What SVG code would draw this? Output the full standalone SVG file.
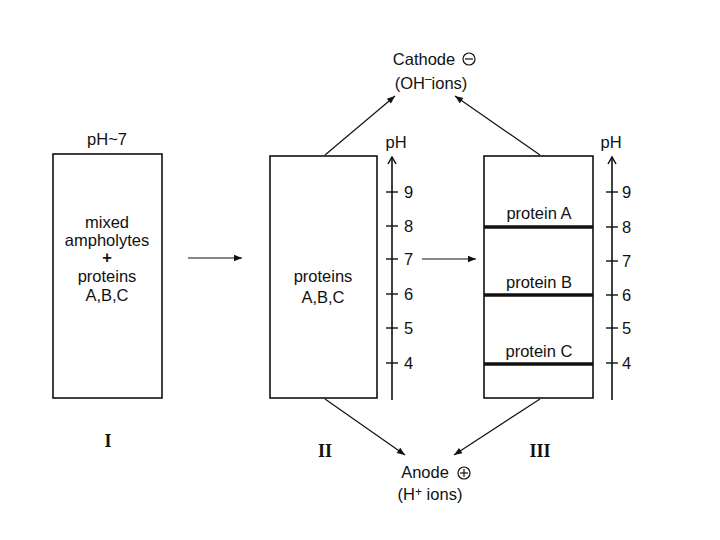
<svg xmlns="http://www.w3.org/2000/svg" width="720" height="540" viewBox="0 0 720 540">
<defs>
<marker id="ah" viewBox="0 0 10 10" refX="10" refY="5" markerWidth="10" markerHeight="8" orient="auto" markerUnits="userSpaceOnUse"><path d="M0,1 L10,5 L0,9 z" fill="#111"/></marker>
<marker id="open" viewBox="0 0 10 10" refX="9" refY="5" markerWidth="10" markerHeight="10" orient="auto" markerUnits="userSpaceOnUse"><path d="M2,1 L9,5 L2,9" fill="none" stroke="#111" stroke-width="1.5"/></marker>
<style>
text{font-family:"Liberation Sans",Arial,sans-serif;font-size:16.5px;fill:#111;text-anchor:middle}
.box{fill:#fff;stroke:#111;stroke-width:1.6}
.ax{stroke:#111;stroke-width:1.6;fill:none}
.tk{stroke:#111;stroke-width:1.4}
.ln{stroke:#111;stroke-width:1.2;fill:none}
.band{stroke:#111;stroke-width:3.5}
.rn{font-family:"Liberation Serif","Times New Roman",serif;font-weight:bold;font-size:18px}
.tl{text-anchor:start}
</style>
</defs>
<rect width="720" height="540" fill="#fff"/>

<g id="cathode">
<text x="424" y="65">Cathode</text>
<circle cx="469" cy="59" r="6" fill="none" stroke="#111" stroke-width="1.2"/>
<line x1="465" y1="59" x2="473" y2="59" stroke="#111" stroke-width="1.2"/>
<text x="431" y="89">(OH<tspan dy="-6" font-size="12">–</tspan><tspan dy="6">ions)</tspan></text>
</g>

<g id="anode">
<text x="425" y="478">Anode</text>
<circle cx="464" cy="473" r="6" fill="none" stroke="#111" stroke-width="1.2"/>
<line x1="460" y1="473" x2="468" y2="473" stroke="#111" stroke-width="1.2"/>
<line x1="464" y1="469" x2="464" y2="477" stroke="#111" stroke-width="1.2"/>
<text x="430" y="500">(H<tspan dy="-4" font-size="12">+</tspan><tspan dy="4"> ions)</tspan></text>
</g>

<g id="stage1">
<text x="107" y="145">pH~7</text>
<rect class="box" x="53" y="154" width="109" height="244"/>
<text x="107" y="228">mixed</text>
<text x="107" y="246">ampholytes</text>
<text x="107" y="263" font-weight="bold">+</text>
<text x="107" y="282">proteins</text>
<text x="107" y="301">A,B,C</text>
<text class="rn" x="108" y="447">I</text>
</g>

<g id="stage2">
<rect class="box" x="270" y="156" width="107" height="242"/>
<text x="323" y="282">proteins</text>
<text x="323" y="303">A,B,C</text>
<text class="rn" x="325" y="457">II</text>
</g>

<g id="axis2">
<text x="396" y="148">pH</text>
<line class="ax" x1="392" y1="400" x2="392" y2="157" marker-end="url(#open)"/>
<g class="tk">
<line x1="386" y1="192" x2="398" y2="192"/>
<line x1="386" y1="226" x2="398" y2="226"/>
<line x1="386" y1="259" x2="398" y2="259"/>
<line x1="386" y1="294" x2="398" y2="294"/>
<line x1="386" y1="328" x2="398" y2="328"/>
<line x1="386" y1="363" x2="398" y2="363"/>
</g>
<text class="tl" x="404" y="198">9</text>
<text class="tl" x="404" y="232">8</text>
<text class="tl" x="404" y="265">7</text>
<text class="tl" x="404" y="300">6</text>
<text class="tl" x="404" y="334">5</text>
<text class="tl" x="404" y="369">4</text>
</g>

<g id="stage3">
<rect class="box" x="484" y="156" width="109" height="242"/>
<text x="539" y="219">protein A</text>
<text x="539" y="288">protein B</text>
<text x="539" y="357">protein C</text>
<line class="band" x1="484" y1="227" x2="593" y2="227"/>
<line class="band" x1="484" y1="295" x2="593" y2="295"/>
<line class="band" x1="484" y1="364" x2="593" y2="364"/>
<text class="rn" x="540" y="457">III</text>
</g>

<g id="axis3">
<text x="611" y="148">pH</text>
<line class="ax" x1="612" y1="400" x2="612" y2="157" marker-end="url(#open)"/>
<g class="tk">
<line x1="606" y1="192" x2="618" y2="192"/>
<line x1="606" y1="227" x2="618" y2="227"/>
<line x1="606" y1="261" x2="618" y2="261"/>
<line x1="606" y1="295" x2="618" y2="295"/>
<line x1="606" y1="328" x2="618" y2="328"/>
<line x1="606" y1="363" x2="618" y2="363"/>
</g>
<text class="tl" x="622" y="198">9</text>
<text class="tl" x="622" y="233">8</text>
<text class="tl" x="622" y="267">7</text>
<text class="tl" x="622" y="301">6</text>
<text class="tl" x="622" y="334">5</text>
<text class="tl" x="622" y="369">4</text>
</g>

<g id="connectors">
<line class="ln" x1="188" y1="258" x2="242" y2="258" marker-end="url(#ah)"/>
<line class="ln" x1="422" y1="259" x2="476" y2="259" marker-end="url(#ah)"/>
<line class="ln" x1="325" y1="155" x2="395" y2="96" marker-end="url(#ah)"/>
<line class="ln" x1="540" y1="155" x2="455" y2="96" marker-end="url(#ah)"/>
<line class="ln" x1="325" y1="399" x2="405" y2="455" marker-end="url(#ah)"/>
<line class="ln" x1="540" y1="399" x2="454" y2="455" marker-end="url(#ah)"/>
</g>
</svg>
